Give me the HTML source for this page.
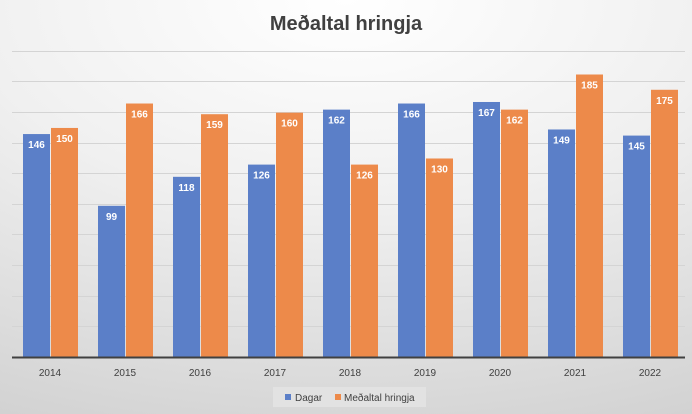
<!DOCTYPE html>
<html><head><style>
html,body{margin:0;padding:0}
body{width:692px;height:414px;overflow:hidden;background:radial-gradient(ellipse 120% 110% at 50% 0%,#ffffff 0%,#f0f0f0 45%,#d2d2d2 100%);font-family:"Liberation Sans",sans-serif}
</style></head><body>
<svg width="692" height="414" xmlns="http://www.w3.org/2000/svg" style="position:absolute;left:0;top:0">
<text x="346" y="30" text-anchor="middle" font-family="Liberation Sans, sans-serif" font-weight="bold" font-size="20" fill="#404040">Meðaltal hringja</text>
<g stroke="#d4d4d4" stroke-width="1">
<line x1="12" x2="685" y1="51.5" y2="51.5"/>
<line x1="12" x2="685" y1="81.5" y2="81.5"/>
<line x1="12" x2="685" y1="112.5" y2="112.5"/>
<line x1="12" x2="685" y1="143.5" y2="143.5"/>
<line x1="12" x2="685" y1="173.5" y2="173.5"/>
<line x1="12" x2="685" y1="204.5" y2="204.5"/>
<line x1="12" x2="685" y1="234.5" y2="234.5"/>
<line x1="12" x2="685" y1="265.5" y2="265.5"/>
<line x1="12" x2="685" y1="296.5" y2="296.5"/>
<line x1="12" x2="685" y1="326.5" y2="326.5"/>
</g>
<g id="bars" font-family="Liberation Sans, sans-serif" font-weight="bold" font-size="10" fill="#fff" text-anchor="middle"></g>
<line x1="12" x2="685" y1="357.5" y2="357.5" stroke="#404040" stroke-width="2"/>
<g id="lbl" font-family="Liberation Sans, sans-serif" font-size="10" fill="#404040" text-anchor="middle"></g>
<rect x="273" y="387" width="153" height="20" fill="#e2e2e2"/>
<rect x="285" y="394" width="6" height="6" fill="#5b7fc8"/>
<text x="295" y="401" font-family="Liberation Sans, sans-serif" font-size="10" fill="#404040">Dagar</text>
<rect x="335" y="394" width="6" height="6" fill="#ed8a4a"/>
<text x="344" y="401" font-family="Liberation Sans, sans-serif" font-size="10" fill="#404040">Meðaltal hringja</text>
</svg>
<script>
var d=[[2014,146,150],[2015,99,166],[2016,118,159],[2017,126,160],[2018,162,126],[2019,166,130],[2020,167,162],[2021,149,185],[2022,145,175]];
var ns="http://www.w3.org/2000/svg",b=document.getElementById("bars"),l=document.getElementById("lbl"),h="";
var base=357,k=1.527,lh="";
d.forEach(function(r,i){var c=50+75*i;
[[r[1],c-27,"#5b7fc8"],[r[2],c+1,"#ed8a4a"]].forEach(function(s){var y=base-s[0]*k;
h+='<rect x="'+s[1]+'" y="'+y+'" width="27" height="'+(base-y)+'" fill="'+s[2]+'"/>';
h+='<text x="'+(s[1]+13.5)+'" y="'+(y+14)+'">'+s[0]+'</text>';});
lh+='<text x="'+c+'" y="376">'+r[0]+'</text>';});
b.innerHTML=h;l.innerHTML=lh;
</script>
</body></html>
